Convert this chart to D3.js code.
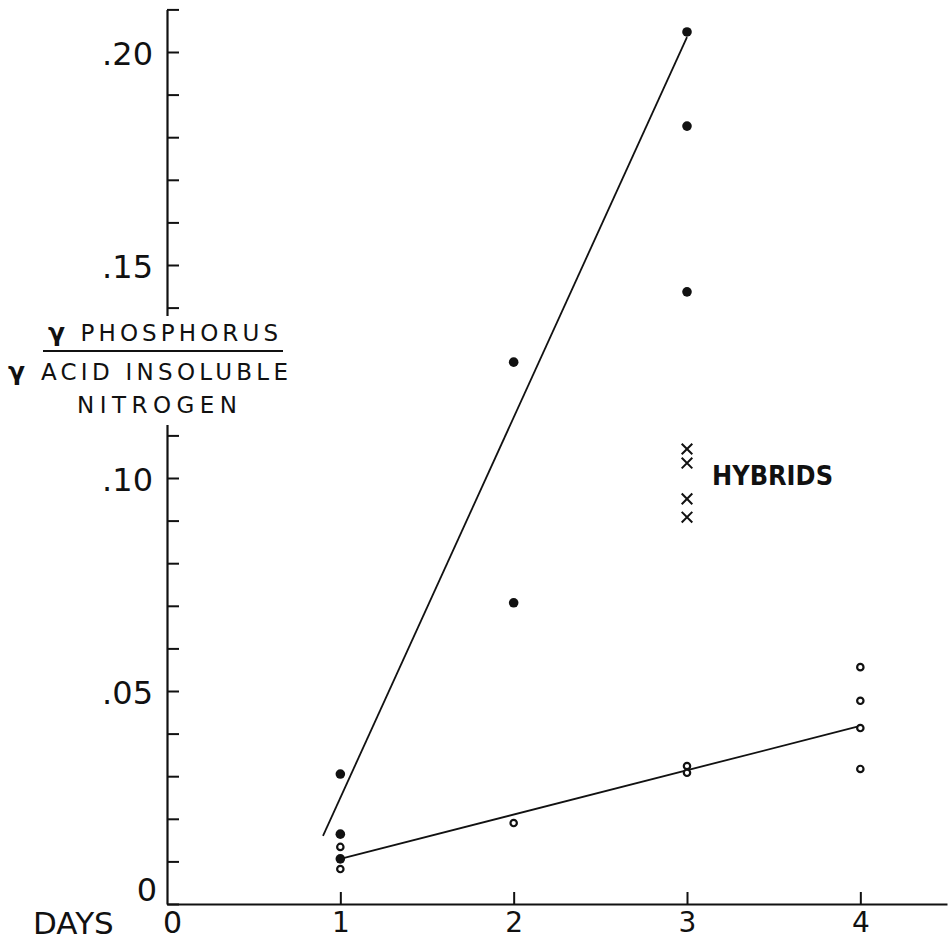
<!DOCTYPE html>
<html>
<head>
<meta charset="utf-8">
<script src="https://cdn.jsdelivr.net/npm/d3@7"></script>
<style>
  html, body { margin: 0; padding: 0; background: #fff; }
  svg { display: block; }
  text { font-family: "DejaVu Sans", sans-serif; fill: #111; }
</style>
</head>
<body>
<svg id="chart" width="949" height="941"></svg>
<script>
// Days after start (x) and ratio of phosphorus to acid-insoluble nitrogen (y)
const dayTicks = [0, 1, 2, 3, 4];
const dayLabels = ["0", "1", "2", "3", "4"];
const ratioTicks = [0.05, 0.10, 0.15, 0.20];
const ratioLabels = [".05", ".10", ".15", ".20"];

// Filled points (steep series)
const filledDays = [1, 1, 1, 2, 2, 3, 3, 3];
const filledRatio = [0.0305, 0.0164, 0.0106, 0.1272, 0.0707, 0.2047, 0.1826, 0.1437];

// Open points (shallow series)
const openDays = [1, 1, 2, 3, 3, 4, 4, 4, 4];
const openRatio = [0.0134, 0.0082, 0.0190, 0.0324, 0.0308, 0.0556, 0.0477, 0.0413, 0.0317];

// Hybrids (crosses)
const hybridDays = [3, 3, 3, 3];
const hybridRatio = [0.1068, 0.1035, 0.0951, 0.0908];

// Fitted lines: [day, ratio] end points
const steepLine = [[0.90, 0.0160], [3.0, 0.2035]];
const shallowLine = [[1, 0.0106], [4, 0.0418]];

const svg = d3.select("#chart");
const ink = "#111";

const x = d3.scaleLinear().domain([0, 4.5]).range([167, 947]);
const y = d3.scaleLinear().domain([0, 0.21]).range([904, 9.4]);

// Y axis: minor ticks every .01, pointing into the plot
const yAxis = d3.axisRight(y)
  .tickValues(d3.range(0, 0.2101, 0.01))
  .tickSize(12)
  .tickSizeOuter(0)
  .tickFormat("");
const gy = svg.append("g").attr("transform", `translate(${x(0)},0)`).call(yAxis);
gy.select(".domain").attr("stroke", ink).attr("stroke-width", 2.2);
gy.selectAll(".tick line").attr("stroke", ink).attr("stroke-width", 2);

// X axis: ticks pointing up, labels below
const xAxis = d3.axisBottom(x)
  .tickValues(dayTicks)
  .tickSize(-12)
  .tickSizeOuter(0)
  .tickPadding(8)
  .tickFormat((d, i) => dayLabels[i]);
const gx = svg.append("g").attr("transform", `translate(0,${y(0)})`).call(xAxis);
gx.select(".domain").attr("stroke", ink).attr("stroke-width", 2.2);
gx.selectAll(".tick line").attr("stroke", ink).attr("stroke-width", 2);
gx.selectAll(".tick text")
  .attr("font-size", 28)
  .attr("font-family", "DejaVu Sans, sans-serif")
  .attr("fill", ink);
gx.selectAll(".tick").filter(d => d === 0).select("text").attr("x", 5).attr("font-size", 30);
gx.selectAll(".tick").filter(d => d === 0).select("line").remove();

// Y tick labels on the left of the axis
svg.append("g").selectAll("text")
  .data(ratioTicks)
  .join("text")
  .attr("x", 153)
  .attr("y", d => y(d) + 2)
  .attr("text-anchor", "end")
  .attr("dominant-baseline", "central")
  .attr("font-size", 32)
  .text((d, i) => ratioLabels[i]);
svg.append("text")
  .attr("x", 157).attr("y", y(0) - 14)
  .attr("text-anchor", "end").attr("dominant-baseline", "central")
  .attr("font-size", 32).text("0");

svg.append("text")
  .attr("x", 33).attr("y", 934)
  .attr("font-size", 31).text("DAYS");

// Y axis title as a fraction, set over a gap in the axis
svg.append("rect")
  .attr("x", 0).attr("y", 316).attr("width", 300).attr("height", 109)
  .attr("fill", "#fff");
const title = svg.append("g");
const t1 = title.append("text")
  .attr("x", 48).attr("y", 341)
  .attr("font-size", 23)
  .attr("textLength", 230).attr("lengthAdjust", "spacing");
t1.append("tspan").attr("font-weight", "bold").attr("font-size", 25).text("γ");
t1.append("tspan").text(" PHOSPHORUS");
title.append("line")
  .attr("x1", 43).attr("x2", 283).attr("y1", 351).attr("y2", 351)
  .attr("stroke", ink).attr("stroke-width", 2);
const t2 = title.append("text")
  .attr("x", 8).attr("y", 380)
  .attr("font-size", 23)
  .attr("textLength", 280).attr("lengthAdjust", "spacing");
t2.append("tspan").attr("font-weight", "bold").attr("font-size", 25).text("γ");
t2.append("tspan").text(" ACID INSOLUBLE");
title.append("text")
  .attr("x", 77).attr("y", 413)
  .attr("font-size", 23)
  .attr("textLength", 160).attr("lengthAdjust", "spacing")
  .text("NITROGEN");

// Fitted lines
const line = d3.line().x(d => x(d[0])).y(d => y(d[1]));
svg.append("path").attr("d", line(steepLine))
  .attr("fill", "none").attr("stroke", ink).attr("stroke-width", 1.8);
svg.append("path").attr("d", line(shallowLine))
  .attr("fill", "none").attr("stroke", ink).attr("stroke-width", 1.8);

// Filled points
svg.append("g").selectAll("circle")
  .data(filledDays.map((d, i) => [d, filledRatio[i]]))
  .join("circle")
  .attr("cx", d => x(d[0])).attr("cy", d => y(d[1]))
  .attr("r", 4.8).attr("fill", ink);

// Open points
svg.append("g").selectAll("circle")
  .data(openDays.map((d, i) => [d, openRatio[i]]))
  .join("circle")
  .attr("cx", d => x(d[0])).attr("cy", d => y(d[1]))
  .attr("r", 3.2).attr("fill", "#fff").attr("stroke", ink).attr("stroke-width", 2.2);

// Hybrid crosses
const cross = d3.symbol().type(d3.symbolTimes).size(75);
svg.append("g").selectAll("path")
  .data(hybridDays.map((d, i) => [d, hybridRatio[i]]))
  .join("path")
  .attr("transform", d => `translate(${x(d[0])},${y(d[1])})`)
  .attr("d", cross)
  .attr("fill", "none").attr("stroke", ink).attr("stroke-width", 2);

svg.append("text")
  .attr("x", 712).attr("y", 485)
  .attr("font-family", "Liberation Sans, sans-serif")
  .attr("font-weight", "bold")
  .attr("font-size", 27)
  .attr("textLength", 121).attr("lengthAdjust", "spacingAndGlyphs")
  .text("HYBRIDS");
</script>
</body>
</html>
